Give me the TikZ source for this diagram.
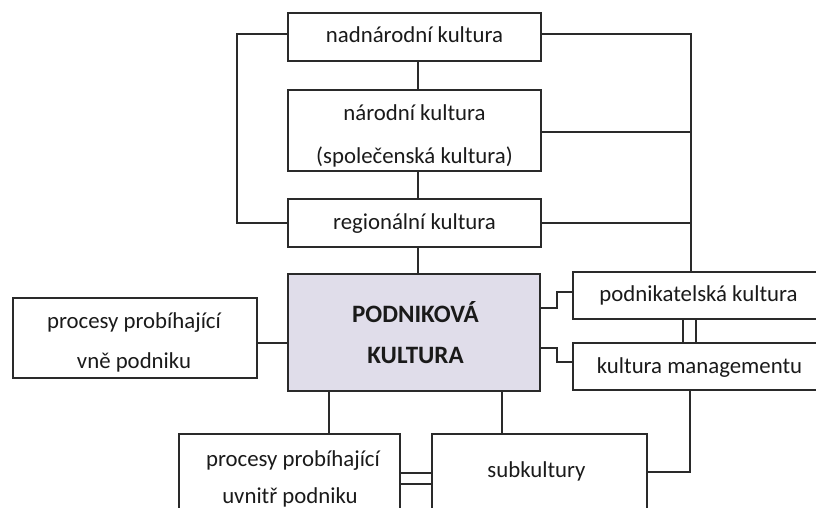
\documentclass[tikz,border=0pt]{standalone}
\usepackage{fontspec}
\setmainfont{Carlito}
\definecolor{linecol}{HTML}{2A2A2A}
\definecolor{textcol}{HTML}{1A1A1A}
\definecolor{corefill}{HTML}{E0DDEA}
\begin{document}
\begin{tikzpicture}[x=1pt,y=-1pt,
  box/.style={draw=linecol, line width=2.2pt, fill=white, rectangle, inner sep=0pt},
  corebox/.style={box, fill=corefill},
  txt/.style={anchor=base, inner sep=0pt, text=textcol, font=\fontsize{22.8}{27}\selectfont},
  boldtxt/.style={txt, font=\fontsize{25}{30}\selectfont\bfseries},
  link/.style={draw=linecol, line width=2.2pt}]
\useasboundingbox (0,0) rectangle (816,508);
\clip (0,0) rectangle (816,508);

% boxes
\node[box, minimum width=253pt, minimum height=48pt] (a) at (414.5,37) {};
\node[box, minimum width=253pt, minimum height=81pt] (b) at (414.5,130.5) {};
\node[box, minimum width=253pt, minimum height=48pt] (c) at (414.5,223) {};
\node[corebox, minimum width=252pt, minimum height=117pt] (p) at (414,332.5) {};
\node[box, minimum width=244pt, minimum height=80pt] (l) at (135,338) {};
\node[box, minimum width=267pt, minimum height=47pt] (d) at (706.5,295.5) {};
\node[box, minimum width=267pt, minimum height=47pt] (e) at (706.5,366.5) {};
\node[box, minimum width=221pt, minimum height=96pt] (f) at (289.5,482) {};
\node[box, minimum width=215pt, minimum height=96pt] (s) at (539.5,482) {};

% guide coordinates for the connector runs
\coordinate (vx) at (418,0);
\coordinate (lx) at (237,0);
\coordinate (rx) at (691,0);
\coordinate (rx2) at (690,0);
\coordinate (bx1) at (329,0);
\coordinate (bx2) at (502,0);
\coordinate (dx1) at (683,0);
\coordinate (dx2) at (696,0);
\coordinate (h1) at (0,473);
\coordinate (h2) at (0,484);
\coordinate (h3) at (0,472);

% central spine
\draw[link] (a.south -| vx) -- (b.north -| vx);
\draw[link] (b.south -| vx) -- (c.north -| vx);
\draw[link] (c.south -| vx) -- (p.north -| vx);

% left loop
\draw[link] ([yshift=3pt]a.west) -| (lx |- c.west) -- (c.west);

% right bus
\draw[link] ([yshift=3pt]a.east) -| (d.north -| rx);
\coordinate (be) at ([yshift=-1.5pt]b.east);
\draw[link] (be) -- (be -| rx);
\draw[link] (c.east) -- (c.east -| rx);

% core to the two right boxes
\draw[link] ([yshift=24.5pt]p.east) -- ++(16,0) |- ([yshift=3.5pt]d.west);
\draw[link] ([yshift=-15.5pt]p.east) -- ++(16,0) |- ([yshift=4.5pt]e.west);
\draw[link] (d.south -| dx1) -- (e.north -| dx1);
\draw[link] (d.south -| dx2) -- (e.north -| dx2);

% outer processes
\coordinate (lc) at ([yshift=-5pt]l.east);
\draw[link] (lc) -- (lc -| p.west);

% lower row
\draw[link] (p.south -| bx1) -- (f.north -| bx1);
\draw[link] (p.south -| bx2) -- (s.north -| bx2);
\draw[link] (f.east |- h1) -- (s.west |- h1);
\draw[link] (f.east |- h2) -- (s.west |- h2);
\draw[link] (s.east |- h3) -| (e.south -| rx2);

% labels
\node[txt] (ta) at (414.5,43) {nadnárodní kultura};
\node[txt] (tb1) at (414.5,121) {národní kultura};
\node[txt] (tb2) at (414.5,163) {(společenská kultura)};
\node[txt] (tc) at (414.5,229) {regionální kultura};
\node[boldtxt] (tp1) at (415.5,322) {PODNIKOVÁ};
\node[boldtxt] (tp2) at (415.5,363) {KULTURA};
\node[txt] (tl1) at (134,328) {procesy probíhající};
\node[txt] (tl2) at (134,368) {vně podniku};
\node[txt] (td) at (698.5,301) {podnikatelská kultura};
\node[txt] (te) at (699.5,373) {kultura managementu};
\node[txt] (tf1) at (293,466) {procesy probíhající};
\node[txt] (tf2) at (290,503) {uvnitř podniku};
\node[txt] (ts) at (536.5,477) {subkultury};
\end{tikzpicture}
\end{document}
